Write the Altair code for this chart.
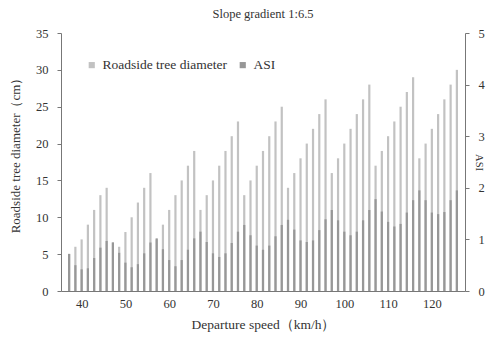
import altair as alt
import pandas as pd

# Roadside tree diameter (cm), 9 groups of 7 bars
tree_diameter = [
    5, 6, 7, 9, 11, 13, 14,
    6.6, 6, 8, 10, 12, 14, 16,
    7, 9, 11, 13, 15, 17, 19,
    11, 13, 15, 17, 19, 21, 23,
    13, 15, 17, 19, 21, 23, 25,
    14, 16, 18, 20, 22, 24, 26,
    16, 18, 20, 22, 24, 26, 28,
    17, 19, 21, 23, 25, 27, 29,
    18, 20, 22, 24, 26, 28, 30,
]

# ASI values
asi = [
    0.72, 0.50, 0.42, 0.44, 0.64, 0.84, 0.97,
    0.94, 0.74, 0.55, 0.46, 0.52, 0.73, 0.94,
    1.02, 0.81, 0.60, 0.48, 0.60, 0.80, 1.02,
    1.15, 0.95, 0.73, 0.66, 0.73, 0.93, 1.15,
    1.28, 1.08, 0.88, 0.80, 0.88, 1.06, 1.28,
    1.38, 1.19, 0.98, 0.95, 0.98, 1.18, 1.39,
    1.57, 1.37, 1.15, 1.08, 1.15, 1.37, 1.57,
    1.78, 1.54, 1.34, 1.25, 1.30, 1.52, 1.76,
    1.95, 1.76, 1.52, 1.49, 1.53, 1.76, 1.95,
]

speed_labels = ["40", "50", "60", "70", "80", "90", "100", "110", "120"]
speed_label_pos = [2, 9, 16, 23, 30, 37, 44, 51, 58]

tree_ticks = [0, 5, 10, 15, 20, 25, 30, 35]
asi_ticks = [0, 1, 2, 3, 4, 5]

series_names = ["Roadside tree diameter", "ASI"]
series_colors = ["#c2c2c2", "#979797"]

df = pd.DataFrame({
    "i": list(range(len(tree_diameter))),
    "tree": tree_diameter,
    "asi": asi,
})

label_expr = " : ".join(
    f"datum.value == {p} ? '{l}'" for p, l in zip(speed_label_pos, speed_labels)
) + " : ''"

FONT = "Liberation Serif"

x_enc = alt.X(
    "i:Q",
    scale=alt.Scale(domain=[-0.5, len(tree_diameter) - 0.5], nice=False, zero=False),
    axis=alt.Axis(
        values=speed_label_pos,
        labelExpr=label_expr,
        ticks=False,
        grid=False,
        labelPadding=6,
        title="Departure speed（km/h）",
        titleFontSize=13.5,
        titlePadding=8,
    ),
)

color_enc = alt.Color(
    "series:N",
    scale=alt.Scale(domain=series_names, range=series_colors),
    legend=alt.Legend(
        title=None,
        orient="none",
        legendX=24,
        legendY=25,
        direction="horizontal",
        symbolType="square",
        symbolSize=38,
        symbolStrokeWidth=0,
        labelFont=FONT,
        labelFontSize=13.5,
        labelColor="#333333",
        labelOffset=4,
        columnPadding=9,
    ),
)

base = alt.Chart(df)

tree_layer = base.transform_calculate(
    series=f"'{series_names[0]}'"
).mark_bar(width=2.2).encode(
    x=x_enc,
    y=alt.Y(
        "tree:Q",
        scale=alt.Scale(domain=[0, 35], nice=False),
        axis=alt.Axis(
            orient="left",
            values=tree_ticks,
            grid=False,
            tickSize=4,
            labelPadding=9,
            title="Roadside tree diameter（cm）",
            titleFontSize=13,
            titleAngle=270,
            titleX=-46,
            titleY=119,
            titleAlign="center",
            titleBaseline="middle",
        ),
    ),
    color=color_enc,
)

asi_layer = base.transform_calculate(
    series=f"'{series_names[1]}'"
).mark_bar(width=2.2).encode(
    x=x_enc,
    y=alt.Y(
        "asi:Q",
        scale=alt.Scale(domain=[0, 5], nice=False),
        axis=alt.Axis(
            orient="right",
            values=asi_ticks,
            grid=False,
            tickSize=4,
            labelPadding=9,
            title="ASI",
            titleFontSize=10.5,
            titleX=13,
            titleY=129,
            titleAlign="center",
            titleBaseline="middle",
        ),
    ),
    color=color_enc,
)

chart = (
    alt.layer(tree_layer, asi_layer)
    .resolve_scale(y="independent")
    .properties(
        width=404,
        height=258,
        title=alt.Title(
            "Slope gradient 1:6.5",
            font=FONT,
            fontSize=12.5,
            fontWeight="normal",
            color="#333333",
            offset=7,
        ),
        autosize=alt.AutoSizeParams(type="none"),
        padding={"left": 53, "top": 25, "right": 21, "bottom": 41},
    )
    .configure_view(stroke=None)
    .configure_axis(
        labelFont=FONT,
        labelFontSize=12.5,
        labelColor="#333333",
        titleFont=FONT,
        titleFontSize=12,
        titleFontWeight="normal",
        titleColor="#333333",
        domainColor="#777777",
        tickColor="#777777",
    )
)

chart.save("out.html", embed_options={"renderer": "svg", "actions": False})
